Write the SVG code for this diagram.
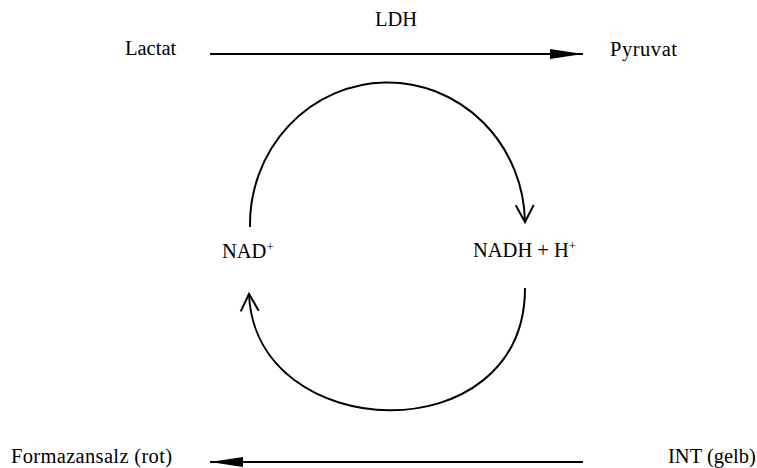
<svg xmlns="http://www.w3.org/2000/svg" width="757" height="468" viewBox="0 0 757 468">
<style>
.sup{font-size:13px}
.ln{stroke:#000;stroke-width:2;fill:none}
</style>
<defs>
<marker id="fh" markerUnits="userSpaceOnUse" markerWidth="36" markerHeight="12" refX="33" refY="5" orient="auto" overflow="visible">
<path d="M0,0 L33,5 L0,10 Z" fill="#000"/>
</marker>
<marker id="oh" markerUnits="userSpaceOnUse" markerWidth="20" markerHeight="20" refX="17" refY="9" orient="auto" overflow="visible">
<path d="M0,0 L17,9 L0,18" fill="none" stroke="#000" stroke-width="2"/>
</marker>
</defs>
<rect width="757" height="468" fill="#fff"/>
<g font-family="'Liberation Serif', 'Times New Roman', 'DejaVu Serif', serif" font-size="20.5" fill="#000">
<g id="lactat"><text x="125" y="55">Lactat</text></g>
<g id="pyruvat"><text x="610" y="56" textLength="67" lengthAdjust="spacing">Pyruvat</text></g>
<g id="ldh"><text x="396" y="26" text-anchor="middle">LDH</text></g>
<g id="nad"><text x="222" y="258">NAD<tspan class="sup" dy="-7">+</tspan></text></g>
<g id="nadh"><text x="473" y="257">NADH + H<tspan class="sup" dy="-7">+</tspan></text></g>
<g id="formazan"><text x="11" y="463" textLength="161" lengthAdjust="spacing">Formazansalz (rot)</text></g>
<g id="int"><text x="668" y="463">INT (gelb)</text></g>
</g>
<g id="connectors">
<path class="ln" d="M210,54 L583,54" marker-end="url(#fh)"/>
<path class="ln" d="M583,462 L210,462" marker-end="url(#fh)"/>
<path class="ln" d="M250,227 A137.5,142 0 0 1 525,222" marker-end="url(#oh)"/>
<path class="ln" d="M525,288 C525,455 255,445 249,294" marker-end="url(#oh)"/>
</g>
</svg>
